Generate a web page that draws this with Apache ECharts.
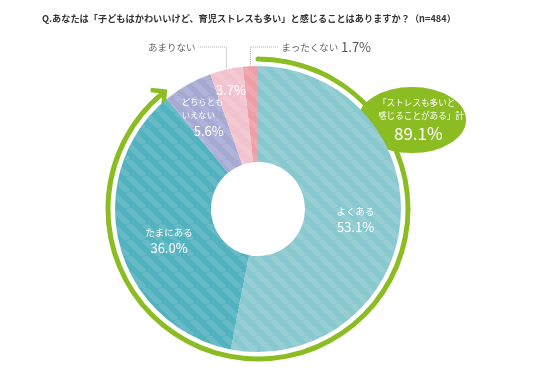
<!DOCTYPE html>
<html><head><meta charset="utf-8">
<script src="https://cdn.jsdelivr.net/npm/echarts@6/dist/echarts.min.js"></script>
<style>html,body{margin:0;padding:0;background:#fff}#c{width:549px;height:371px}</style>
</head><body><div id="c"></div>
<script>
const TITLE = 'Q.あなたは「子どもはかわいいけど、育児ストレスも多い」と感じることはありますか？（n=484）';
const categories = ['よくある', 'たまにある', 'どちらとも\nいえない', 'あまりない', 'まったくない'];
const values = [53.1, 36.0, 5.6, 3.7, 1.7];
const colors = ['#88c8cf', '#52b2bf', '#a6aad3', '#f2c3ce', '#ee9ea7'];
const summaryLines = ['「ストレスも多いと', '感じることがある」計'];
const summaryIdx = [0, 1];

const TOTAL = values.reduce((a, b) => a + b, 0);
const SUM = Math.round(summaryIdx.reduce((a, i) => a + values[i], 0) * 10) / 10;
const CENTER = [258, 209];
const RADIUS = [47, 143];
const GREEN = '#8bbd23';
const FONT = '"Noto Sans CJK JP", sans-serif';
const pct = v => Number(v).toFixed(1) + '%';

function stripes(base) {
  const s = 16, c = document.createElement('canvas');
  c.width = s; c.height = s;
  const g = c.getContext('2d');
  g.fillStyle = base; g.fillRect(0, 0, s, s);
  g.strokeStyle = 'rgba(255,255,255,0.12)'; g.lineWidth = 5.5;
  for (let k = -1; k <= 1; k++) {
    g.beginPath(); g.moveTo(k * s, 0); g.lineTo(k * s + s, s); g.stroke();
  }
  return { image: c, repeat: 'repeat' };
}

const mainData = values.map((v, i) => {
  const d = { name: categories[i], value: v, itemStyle: { color: stripes(colors[i]) } };
  if (i >= 3) {
    d.label = {
      position: 'outside',
      formatter: i === 4 ? '{n|{b}} {v|' + pct(v) + '}' : '{n|{b}}',
      rich: { n: { color: '#666', fontSize: 9.5, fontFamily: FONT }, v: { color: '#555', fontSize: 13, fontFamily: FONT } }
    };
    d.labelLine = { show: true };
  } else if (i === 2) {
    d.label = { position: 'inside', formatter: '{m|{b}}\n{w|' + pct(v) + '}' };
  } else {
    d.label = { position: 'inside', formatter: '{n|{b}}\n{v|' + pct(v) + '}' };
  }
  return d;
});
const labelData = values.map((v, i) => ({ name: categories[i], value: v,
  label: { show: i === 3, formatter: pct(v) } }));

const adjust = { 0: [0, 2, 'center'], 1: [6, 8, 'center'], 2: [-28, -6, 'left'] };

const chart = echarts.init(document.getElementById('c'), null, { renderer: 'canvas' });
chart.setOption({
  animation: false,
  title: { text: TITLE, left: 37, top: 9, textStyle: { fontSize: 9.2, fontWeight: 'bold', color: '#333', fontFamily: FONT } },
  polar: { center: CENTER, radius: [147, 153] },
  angleAxis: { type: 'value', min: 0, max: TOTAL, startAngle: 90, clockwise: true, show: false },
  radiusAxis: { type: 'category', data: ['計'], show: false },
  series: [
    {
      type: 'bar', coordinateSystem: 'polar', data: [SUM], barWidth: 5, roundCap: true,
      itemStyle: { color: GREEN }, silent: true, z: 1
    },
    {
      type: 'custom', coordinateSystem: 'polar', data: [[0, SUM]], encode: { radius: 0, angle: 1 }, silent: true, z: 2,
      renderItem: function (params, api) {
        const p = api.coord([api.value(0), api.value(1)]);
        const cs = params.coordSys;
        const vx = p[0] - cs.cx, vy = p[1] - cs.cy;
        const len = Math.sqrt(vx * vx + vy * vy);
        const nx = vx / len, ny = vy / len;
        const tx = -ny, ty = nx;
        const tip = [p[0] + tx * 3, p[1] + ty * 3];
        const w1 = [tip[0] - tx * 10 + nx * 10, tip[1] - ty * 10 + ny * 10];
        const w2 = [tip[0] - tx * 10 - nx * 10, tip[1] - ty * 10 - ny * 10];
        return { type: 'polyline', shape: { points: [w1, tip, w2] },
          style: { stroke: GREEN, lineWidth: 4.5, fill: null, lineJoin: 'miter', lineCap: 'butt' } };
      }
    },
    {
      type: 'pie', center: CENTER, radius: RADIUS, startAngle: 90, clockwise: true, z: 3,
      data: mainData, silent: true,
      label: {
        color: '#fff', fontFamily: FONT,
        rich: {
          n: { fontSize: 9.5, color: '#fff', fontFamily: FONT, lineHeight: 14 },
          m: { fontSize: 8.3, color: '#fff', fontFamily: FONT, lineHeight: 13 },
          v: { fontSize: 13, color: '#fff', fontFamily: FONT, lineHeight: 18 },
          w: { fontSize: 13, color: '#fff', fontFamily: FONT, lineHeight: 18, padding: [0, 0, 0, 12] }
        }
      },
      labelLine: { show: false, lineStyle: { type: 'dotted', color: '#aaa', width: 1 } },
      labelLayout: function (params) {
        const i = params.dataIndex;
        if (adjust[i]) return { dx: adjust[i][0], dy: adjust[i][1], align: adjust[i][2] };
        const pts = params.labelLinePoints;
        if (!pts) return {};
        const p0 = pts[0];
        const ly = CENTER[1] - RADIUS[1] - 19;
        const dir = i === 4 ? 1 : -1;
        return {
          x: p0[0] + dir * 31, y: ly, align: dir > 0 ? 'left' : 'right', verticalAlign: 'middle',
          labelLinePoints: [[p0[0], p0[1] + 14], [p0[0], ly], [p0[0] + dir * 28, ly]]
        };
      }
    },
    {
      type: 'pie', center: CENTER, radius: [95, 143], startAngle: 90, clockwise: true, z: 4,
      data: labelData, silent: true,
      itemStyle: { color: 'rgba(0,0,0,0)' },
      label: { position: 'inside', color: '#fff', fontSize: 13, fontFamily: FONT },
      labelLine: { show: false }
    }
  ],
  graphic: [
    {
      type: 'group', left: 356, top: 85, z: 10,
      children: [
        { type: 'ellipse', shape: { cx: 55, cy: 34, rx: 55, ry: 34 }, style: { fill: GREEN, stroke: '#fff', lineWidth: 2 } },
        { type: 'text', x: 21, y: 10, style: { text: summaryLines.join('\n'), fill: '#fff', fontSize: 8.6, lineHeight: 13, fontFamily: FONT } },
        { type: 'text', x: 37, y: 39, style: { text: pct(SUM), fill: '#fff', fontSize: 17, fontFamily: FONT } }
      ]
    }
  ]
});
</script></body></html>
